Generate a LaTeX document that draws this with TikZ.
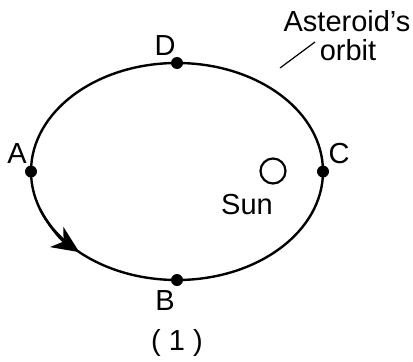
\documentclass[tikz,border=0pt]{standalone}
\usepackage{fontspec}
\setmainfont{Liberation Sans}
\usetikzlibrary{arrows.meta,calc}
\begin{document}
\begin{tikzpicture}[x=1pt,y=1pt,
  orbitline/.style={line width=2.4pt},
  ptdot/.style={circle,fill=black,inner sep=0pt,minimum size=12pt},
  lbl/.style={font=\fontsize{29}{31}\selectfont,inner sep=0pt}]
\useasboundingbox (0,0) rectangle (413,-362);
\coordinate (O) at (177,-171.5);
\draw[orbitline] (O) ellipse [x radius=146, y radius=108.5];
\draw[orbitline,-{Stealth[length=27pt,width=24pt,inset=8pt]}]
  ($(O)+(200:146 and 108.5)$) arc[start angle=200,end angle=228,x radius=146,y radius=108.5];
\node[ptdot] (A) at (31,-171.5) {};
\node[ptdot] (C) at (323,-171.5) {};
\node[ptdot] (D) at (177,-63) {};
\node[ptdot] (B) at (177,-280) {};
\node[lbl] (lA) at (17,-154) {A};
\node[lbl] (lC) at (339,-154) {C};
\node[lbl] (lD) at (165,-46) {D};
\node[lbl] (lB) at (165,-301) {B};
\node[circle,draw,line width=2.2pt,minimum size=25pt,inner sep=0pt] (sun) at (273,-171) {};
\node[lbl] (lsun) at (247,-205) {Sun};
\node[lbl] (ast) at (347,-21) {Asteroid’s};
\node[lbl] (orb) at (348,-50) {orbit};
\coordinate (lead1) at (280,-68);
\coordinate (lead2) at (315,-42);
\draw[line width=1.2pt] (lead1) -- (lead2);
\node[lbl] (cap) at (177,-343) {( 1 )};
\end{tikzpicture}
\end{document}
